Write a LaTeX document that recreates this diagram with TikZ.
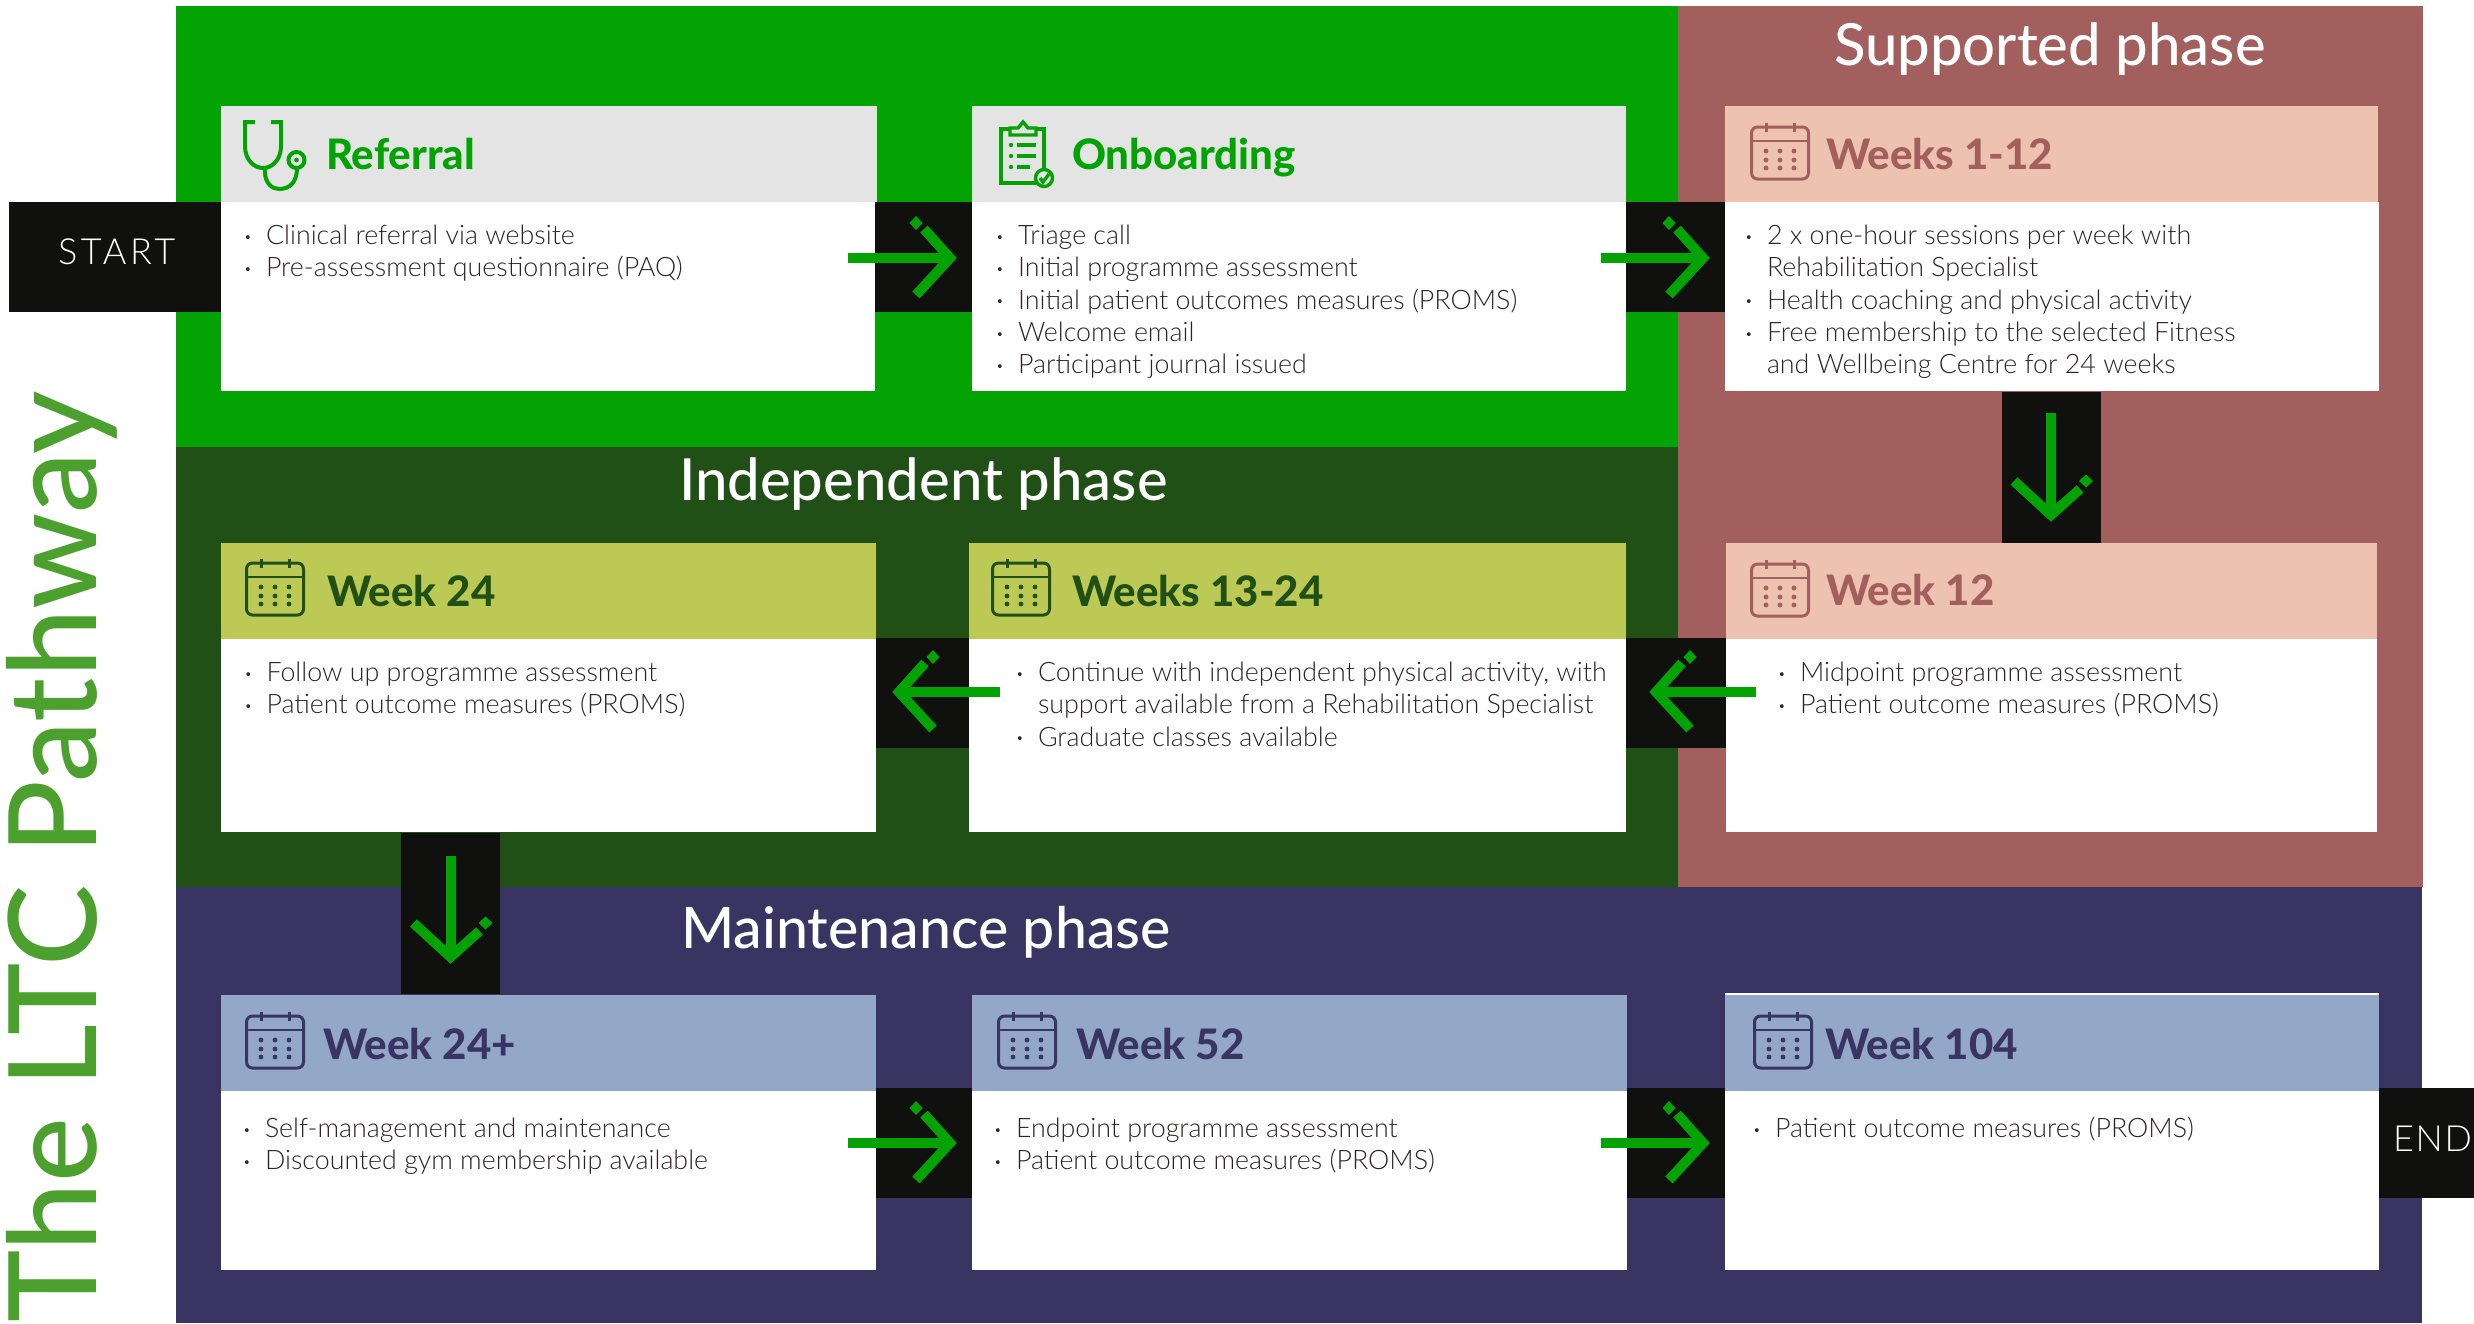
\documentclass[tikz,border=0pt]{standalone}
\usepackage{fontspec}
\setmainfont{Lato}
\newfontfamily\bodyf{Lato Light}
\newfontfamily\headf{Lato Heavy}
\newfontfamily\phasef{Lato Medium}
\newfontfamily\tagf[LetterSpace=10]{Lato Light}
\newfontfamily\tagg[LetterSpace=5]{Lato Light}
\definecolor{cgreen}{HTML}{02A302}
\definecolor{cbrown}{HTML}{A25F5D}
\definecolor{cdark}{HTML}{205015}
\definecolor{cpurple}{HTML}{3A3463}
\definecolor{cgrey}{HTML}{E4E4E4}
\definecolor{cpeach}{HTML}{EEC2B0}
\definecolor{colive}{HTML}{BCCA55}
\definecolor{cblue}{HTML}{93A8C9}
\definecolor{cblack}{HTML}{10100E}
\definecolor{ctext}{HTML}{2E2224}
\definecolor{ctitle}{HTML}{4CA02E}
\newlength{\bulw}
\setlength{\bulw}{11pt}
\newcommand{\bul}{\makebox[\bulw][l]{\raisebox{1.6pt}{\fontsize{6.5}{6.5}\selectfont •}}}
\newcommand{\nob}{\hspace*{\bulw}}
\tikzset{
  rb/.style 2 args={rectangle,draw=none,inner sep=0pt,outer sep=0pt,anchor=north west,minimum width=#1*0.5pt,minimum height=#2*0.5pt},
  hdt/.style={anchor=base west,inner sep=0pt,outer sep=0pt,font=\headf\fontsize{21}{25}\selectfont},
  phs/.style={anchor=base west,inner sep=0pt,outer sep=0pt,text=white,font=\phasef\fontsize{29}{34}\selectfont},
  tagt/.style={anchor=base west,inner sep=0pt,outer sep=0pt,text=white,font=\tagf\fontsize{18}{22}\selectfont},
  bd/.style={anchor=north west,inner sep=0pt,outer sep=0pt,align=left,text=ctext,font=\bodyf\fontsize{13.4}{16.15}\selectfont},
  shaft/.style={draw=cgreen,line width=5pt,line cap=butt},
  arrowhd/.pic={
    \draw[cgreen,line width=5pt,miter limit=10] (-33,-29) -- (-7,0) -- (-41,37);
    \fill[cgreen] (-41,-42) -- (-34.5,-35) -- (-41,-28) -- (-47.5,-35) -- cycle;
  },
  calicon/.pic={
    \draw[pic actions,line width=1.5pt,rounded corners=3pt,fill=none] (1.5,0) rectangle (58.5,52);
    \draw[pic actions,line width=1.3pt] (1.5,14) -- (58.5,14);
    \draw[pic actions,line width=1.5pt] (16,-4) -- (16,5) (44,-4) -- (44,5);
    \foreach \cx in {16,30,44}\foreach \cy in {24,33,41}{\fill[pic actions] (\cx,\cy) circle (1pt);}
  },
}
\begin{document}
\begin{tikzpicture}[x=0.5pt,y=-0.5pt]
\useasboundingbox (0,0) rectangle (2474,1323);
% phase bands
\node[rb={1502}{441},fill=cgreen] (bandG) at (176,6) {};
\node[rb={1502}{440},fill=cdark] (bandD) at (176,447) {};
\node[rb={745}{881},fill=cbrown] (bandB) at (1678,6) {};
\node[rb={2246}{436},fill=cpurple] (bandP) at (176,887) {};
% title
\node[rotate=90,anchor=base west,inner sep=0pt,text=ctitle,font=\phasef\fontsize{61.1}{70}\selectfont] (title) at (96,1323) {The LTC Pathway};
% phase names
\node[phs] (phS) at (1834,65) {Supported phase};
\node[phs] (phI) at (679,500) {Independent phase};
\node[phs,font=\phasef\fontsize{28.6}{34}\selectfont] (phM) at (681,948) {Maintenance phase};
% black tabs
\node[rb={212}{110},fill=cblack] (start) at (9,202) {};
\node[rb={99}{110},fill=cblack] (c1) at (875,202) {};
\node[rb={99}{110},fill=cblack] (c2) at (1626,202) {};
\node[rb={99}{151},fill=cblack] (c3) at (2002,392) {};
\node[rb={100}{110},fill=cblack] (c4) at (1626,638) {};
\node[rb={93}{110},fill=cblack] (c5) at (876,638) {};
\node[rb={99}{161},fill=cblack] (c6) at (401,833) {};
\node[rb={96}{110},fill=cblack] (c7) at (876,1088) {};
\node[rb={98}{110},fill=cblack] (c8) at (1627,1088) {};
\node[rb={95}{110},fill=cblack] (endtab) at (2379,1088) {};
\node[tagt] (startT) at (58,264) {START};
\node[tagt,font=\tagg\fontsize{18}{22}\selectfont] (endT) at (2393,1151) {END};
% cards: bodies
\node[rb={654}{189},fill=white] (b1) at (221,202) {};
\node[rb={654}{189},fill=white] (b2) at (972,202) {};
\node[rb={654}{189},fill=white] (b3) at (1725,202) {};
\node[rb={651}{193},fill=white] (b4) at (1726,639) {};
\node[rb={657}{193},fill=white] (b5) at (969,639) {};
\node[rb={655}{193},fill=white] (b6) at (221,639) {};
\node[rb={655}{180},fill=white] (b7) at (221,1090) {};
\node[rb={655}{180},fill=white] (b8) at (972,1090) {};
\node[rb={654}{277},fill=white] (b9) at (1725,993) {};
% cards: headers
\node[rb={656}{96},fill=cgrey] (h1) at (221,106) {};
\node[rb={654}{96},fill=cgrey] (h2) at (972,106) {};
\node[rb={653}{96},fill=cpeach] (h3) at (1725,106) {};
\node[rb={651}{96},fill=cpeach] (h4) at (1726,543) {};
\node[rb={657}{96},fill=colive] (h5) at (969,543) {};
\node[rb={655}{96},fill=colive] (h6) at (221,543) {};
\node[rb={655}{96},fill=cblue] (h7) at (221,995) {};
\node[rb={655}{96},fill=cblue] (h8) at (972,995) {};
\node[rb={654}{96},fill=cblue] (h9) at (1725,995) {};
% headings
\node[hdt,text=cgreen] (t1) at (326,169) {Referral};
\node[hdt,text=cgreen] (t2) at (1072,169) {Onboarding};
\node[hdt,text=cbrown] (t3) at (1826,169) {Weeks 1-12};
\node[hdt,text=cbrown] (t4) at (1826,605) {Week 12};
\node[hdt,text=cdark] (t5) at (1072,606) {Weeks 13-24};
\node[hdt,text=cdark] (t6) at (327,606) {Week 24};
\node[hdt,text=cpurple] (t7) at (323,1059) {Week 24+};
\node[hdt,text=cpurple] (t8) at (1076,1059) {Week 52};
\node[hdt,text=cpurple] (t9) at (1825,1059) {Week 104};
% calendar icons
\pic[draw=cbrown,fill=cbrown,color=cbrown] at (1750,127) {calicon};
\pic[draw=cbrown,fill=cbrown,color=cbrown] at (1750,564) {calicon};
\pic[draw=cdark,fill=cdark,color=cdark] at (991,563) {calicon};
\pic[draw=cdark,fill=cdark,color=cdark] at (245,563) {calicon};
\pic[draw=cpurple,fill=cpurple,color=cpurple] at (245,1016) {calicon};
\pic[draw=cpurple,fill=cpurple,color=cpurple] at (997,1016) {calicon};
\pic[draw=cpurple,fill=cpurple,color=cpurple] at (1753,1016) {calicon};
% stethoscope
\begin{scope}[cgreen,line width=2pt]
\draw (255,122) -- (245,122) -- (245,146) .. controls (245,160) and (254,168) .. (263,168) .. controls (272,168) and (281,160) .. (281,146) -- (281,122) -- (271,122);
\draw (265,168) -- (265,172) .. controls (265,183) and (272,189) .. (279,189) .. controls (290,189) and (297,182) .. (297,168);
\draw (296.5,160) circle (8);
\fill (296.5,160) circle (1.2pt);
\end{scope}
% clipboard
\begin{scope}[cgreen,line width=1.7pt]
\draw (1010,129) -- (1001,129) -- (1001,183) -- (1036,183);
\draw (1036,129) -- (1044,129) -- (1044,168);
\draw (1010,135) -- (1010,128) -- (1018,128) -- (1023,122) -- (1028,128) -- (1036,128) -- (1036,135) -- cycle;
\foreach \ly/\lx in {145/1036,156/1036,167/1030}{
  \fill (1011,\ly) circle (1.1pt);
  \draw (1017,\ly) -- (\lx,\ly);
}
\draw[fill=cgrey] (1044,178) circle (8.5);
\draw (1040,178) -- (1043,182) -- (1049,174);
\end{scope}
% body texts
\node[bd] (x1) at (244,224.5) {\rule{0pt}{10pt}\bul Clinical referral via website\\\bul Pre-assessment questionnaire (PAQ)};
\node[bd] (x2) at (996,224.5) {\rule{0pt}{10pt}\bul Triage call\\\bul Initial programme assessment\\\bul Initial patient outcomes measures (PROMS)\\\bul Welcome email\\\bul Participant journal issued};
\node[bd] (x3) at (1745,224.5) {\rule{0pt}{10pt}\bul 2 x one-hour sessions per week with\\\nob Rehabilitation Specialist\\\bul Health coaching and physical activity\\\bul Free membership to the selected Fitness\\\nob and Wellbeing Centre for 24 weeks};
\node[bd] (x4) at (1778,661.5) {\rule{0pt}{10pt}\bul Midpoint programme assessment\\\bul Patient outcome measures (PROMS)};
\node[bd] (x5) at (1016,661.5) {\rule{0pt}{10pt}\bul Continue with independent physical activity, with\\\nob support available from a Rehabilitation Specialist\\\bul Graduate classes available};
\node[bd] (x6) at (244.5,661.5) {\rule{0pt}{10pt}\bul Follow up programme assessment\\\bul Patient outcome measures (PROMS)};
\node[bd] (x7) at (243,1117.5) {\rule{0pt}{10pt}\bul Self-management and maintenance\\\bul Discounted gym membership available};
\node[bd] (x8) at (994,1117.5) {\rule{0pt}{10pt}\bul Endpoint programme assessment\\\bul Patient outcome measures (PROMS)};
\node[bd] (x9) at (1753,1117.5) {\rule{0pt}{10pt}\bul Patient outcome measures (PROMS)};
% arrows
\coordinate (a1s) at (848,258); \coordinate (a1t) at (957,258);
\coordinate (a2s) at (1601,258); \coordinate (a2t) at (1710,258);
\coordinate (a3s) at (2051,413); \coordinate (a3t) at (2051,522);
\coordinate (a4s) at (1756,692); \coordinate (a4t) at (1649,692);
\coordinate (a5s) at (1000,692); \coordinate (a5t) at (892,692);
\coordinate (a6s) at (450.5,856); \coordinate (a6t) at (450.5,964);
\coordinate (a7s) at (848,1143); \coordinate (a7t) at (957,1143);
\coordinate (a8s) at (1601,1143); \coordinate (a8t) at (1710,1143);
\foreach \a in {1,2,7,8}{
  \draw[shaft] (a\a s) -- ++(100,0);
  \pic at (a\a t) {arrowhd};
}
\foreach \a in {3,6}{
  \draw[shaft] (a\a s) -- ++(0,100);
  \pic[rotate=-90] at (a\a t) {arrowhd};
}
\foreach \a in {4,5}{
  \draw[shaft] (a\a s) -- ++(-100,0);
  \pic[xscale=-1] at (a\a t) {arrowhd};
}
\end{tikzpicture}
\end{document}
